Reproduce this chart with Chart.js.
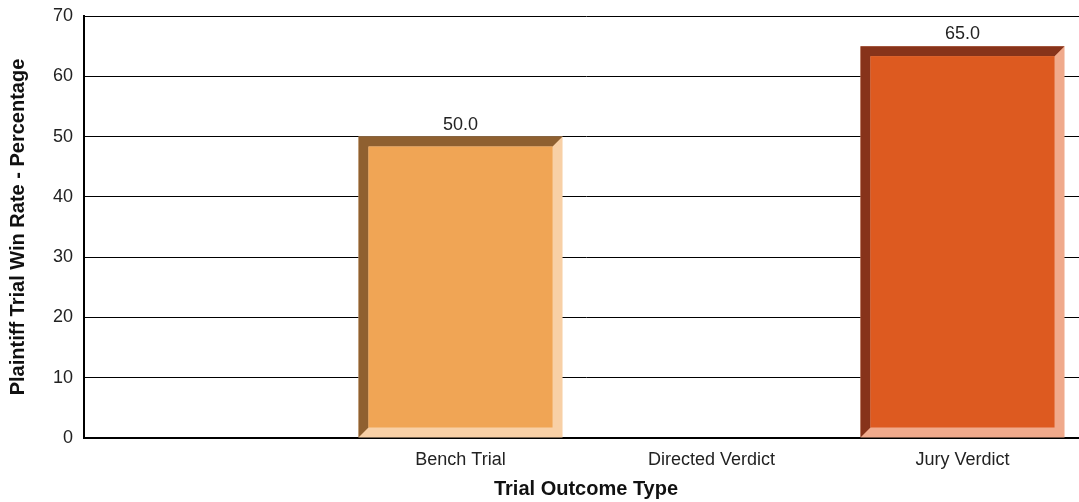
<!DOCTYPE html>
<html>
<head>
<meta charset="utf-8">
<script src="https://cdn.jsdelivr.net/npm/chart.js@4.4.1/dist/chart.umd.min.js"></script>
<style>
  html, body { margin: 0; padding: 0; background: #fff; overflow: hidden; }
  #wrap { width: 1088px; height: 502px; }
</style>
</head>
<body>
<div id="wrap"><canvas id="chart" width="1088" height="502"></canvas></div>
<script>
// 数据
const categories = ['', 'Bench Trial', 'Directed Verdict', 'Jury Verdict'];
const winRates = [null, 50.0, null, 65.0];
const yTicks = [0, 10, 20, 30, 40, 50, 60, 70];

// 每根柱子的三种颜色：亮面、正面、暗面
const lightColors = ['#f8d0a6', '#f8d0a6', '#f8d0a6', '#f0aa8c'];
const faceColors = ['#f0a555', '#f0a555', '#f0a555', '#dd5a20'];
const darkColors = ['#8f6030', '#8f6030', '#8f6030', '#87331a'];

const BEVEL = 10;
const FONT = '"Liberation Sans", Arial, sans-serif';

// 画立体边框和数值标签
const bevelPlugin = {
  id: 'bevel',
  afterDatasetsDraw(chart) {
    const ctx = chart.ctx;
    const meta = chart.getDatasetMeta(0);
    meta.data.forEach((bar, i) => {
      if (winRates[i] == null) return;
      const l = bar.x - bar.width / 2;
      const r = bar.x + bar.width / 2;
      const t = bar.y;
      const b = bar.base;
      ctx.save();
      ctx.fillStyle = darkColors[i];
      ctx.beginPath();
      ctx.moveTo(l, t);
      ctx.lineTo(r, t);
      ctx.lineTo(r - BEVEL, t + BEVEL);
      ctx.lineTo(l + BEVEL, t + BEVEL);
      ctx.lineTo(l + BEVEL, b - BEVEL);
      ctx.lineTo(l, b);
      ctx.closePath();
      ctx.fill();
      ctx.fillStyle = faceColors[i];
      ctx.fillRect(l + BEVEL, t + BEVEL, r - l - 2 * BEVEL, b - t - 2 * BEVEL);
      ctx.fillStyle = '#222';
      ctx.font = '18px ' + FONT;
      ctx.textAlign = 'center';
      ctx.textBaseline = 'bottom';
      ctx.fillText(winRates[i].toFixed(1), bar.x, t - 3);
      ctx.restore();
    });
  }
};

const ctx = document.getElementById('chart').getContext('2d');
new Chart(ctx, {
  type: 'bar',
  data: {
    labels: categories,
    datasets: [{
      data: winRates,
      backgroundColor: lightColors,
      borderWidth: 0,
      barPercentage: 0.813,
      categoryPercentage: 1.0
    }]
  },
  options: {
    responsive: false,
    animation: false,
    layout: { padding: { top: 16, right: 0, bottom: 0, left: 6 } },
    plugins: {
      legend: { display: false },
      tooltip: { enabled: false }
    },
    scales: {
      x: {
        afterFit(scale) {
          scale.height = 64;
        },
        grid: { display: false, drawTicks: false },
        border: { color: '#000', width: 2 },
        ticks: {
          color: '#222',
          padding: 13,
          font: { family: FONT, size: 18, lineHeight: 1 }
        },
        title: {
          display: true,
          text: 'Trial Outcome Type',
          color: '#111',
          padding: { top: 0, bottom: 7 },
          font: { family: FONT, size: 20, weight: 'bold', lineHeight: 0.6 }
        }
      },
      y: {
        min: 0,
        max: 70,
        afterBuildTicks(axis) {
          axis.ticks = yTicks.map(v => ({ value: v }));
        },
        afterFit(scale) {
          scale.paddingTop = 0;
          scale.paddingBottom = 0;
        },
        grid: { color: '#000', lineWidth: 1, drawTicks: false },
        border: { color: '#000', width: 2 },
        ticks: {
          color: '#222',
          padding: 11,
          font: { family: FONT, size: 18, lineHeight: 1 }
        },
        title: {
          display: true,
          text: 'Plaintiff Trial Win Rate - Percentage',
          color: '#111',
          padding: { top: 0, bottom: 12 },
          font: { family: FONT, size: 20, weight: 'bold' }
        }
      }
    }
  },
  plugins: [bevelPlugin]
});
</script>
</body>
</html>
